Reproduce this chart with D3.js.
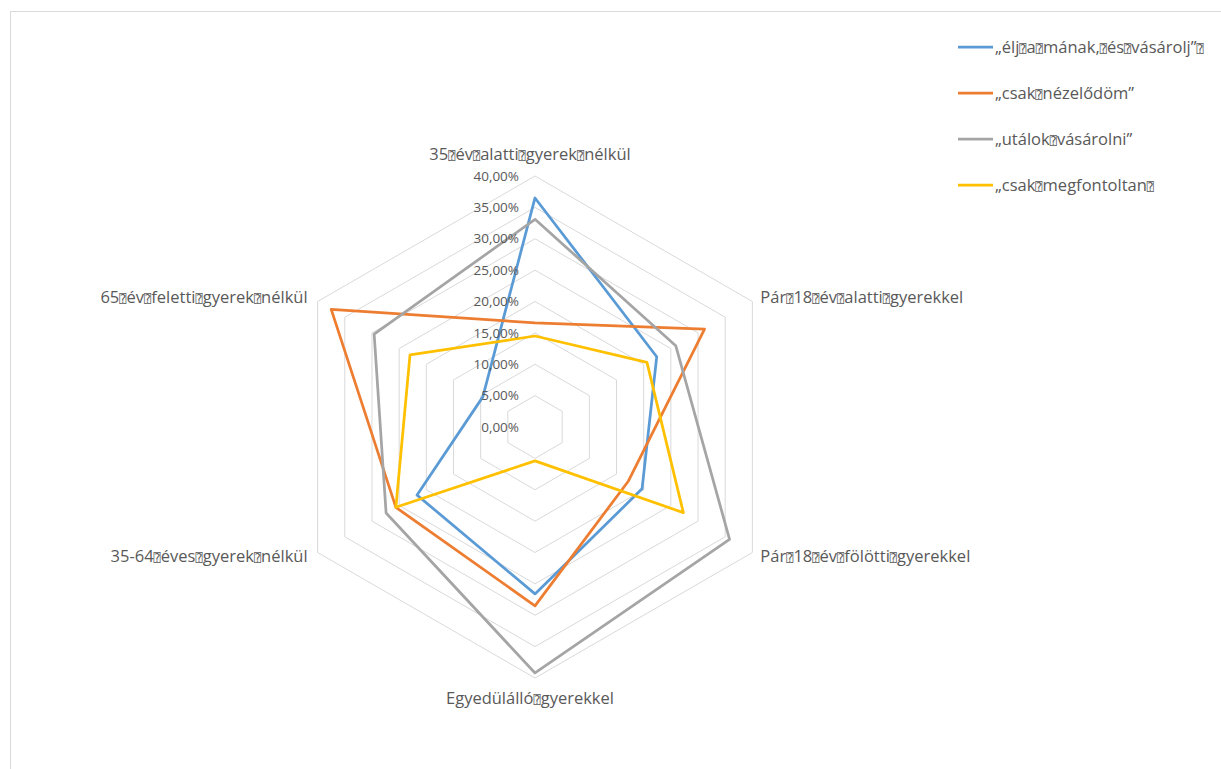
<!DOCTYPE html>
<html>
<head>
<meta charset="utf-8">
<script src="https://cdn.jsdelivr.net/npm/d3@7"></script>
<style>
  body { margin: 0; background: #fff; }
  text { font-family: "Open Sans", "DejaVu Sans", sans-serif; fill: #595959; }
  .box { font-family: "DejaVu Sans Mono", "DejaVu Sans", sans-serif; font-size: 12px; }
</style>
</head>
<body>
<script>
// "⍰" stands for the missing-glyph boxes shown in the original
const categories = [
  "35⍰év⍰alatti⍰gyerek⍰nélkül",
  "Pár⍰18⍰év⍰alatti⍰gyerekkel",
  "Pár⍰18⍰év⍰fölötti⍰gyerekkel",
  "Egyedülálló⍰gyerekkel",
  "35-64⍰éves⍰gyerek⍰nélkül",
  "65⍰év⍰feletti⍰gyerek⍰nélkül"
];
const seriesNames = [
  "„élj⍰a⍰mának,⍰és⍰vásárolj”⍰",
  "„csak⍰nézelődöm”",
  "„utálok⍰vásárolni”",
  "„csak⍰megfontoltan⍰"
];
const seriesColors = ["#5B9BD5", "#ED7D31", "#A5A5A5", "#FFC000"];
const blueValues   = [36.5, 22.4, 19.7, 26.6, 21.7, 9.6];
const orangeValues = [16.6, 31.2, 17.2, 28.5, 25.6, 37.5];
const grayValues   = [33.1, 25.9, 35.8, 39.2, 27.4, 29.6];
const yellowValues = [14.5, 20.6, 27.3, 5.4, 25.6, 23.0];
const tickValues = [0, 5, 10, 15, 20, 25, 30, 35, 40];
const tickLabels = ["0,00%", "5,00%", "10,00%", "15,00%", "20,00%", "25,00%", "30,00%", "35,00%", "40,00%"];

const series = [blueValues, orangeValues, grayValues, yellowValues];

const W = 1221, H = 769;
const svg = d3.select("body").append("svg").attr("width", W).attr("height", H);

// chart area border
svg.append("rect")
    .attr("x", 10.5).attr("y", 11.5)
    .attr("width", W + 20).attr("height", H + 20)
    .attr("fill", "none").attr("stroke", "#d9d9d9");

const cx = 535, cy = 427;
const r = d3.scaleLinear().domain([0, 40]).range([0, 251]);
const angle = i => i * 2 * Math.PI / categories.length;
const pt = (v, i) => [cx + r(v) * Math.sin(angle(i)), cy - r(v) * Math.cos(angle(i))];

function addText(sel, str) {
  str.split(/(⍰)/).forEach(s => {
    if (!s) return;
    if (s === "⍰") sel.append("tspan").attr("class", "box").text(s);
    else sel.append("tspan").text(s);
  });
}

// grid hexagons
const g = svg.append("g");
tickValues.filter(t => t > 0).forEach(t => {
  g.append("path")
      .attr("d", d3.line()(categories.map((c, i) => pt(t, i))) + "Z")
      .attr("fill", "none").attr("stroke", "#d9d9d9").attr("stroke-width", 1);
});

// series
const radar = d3.line().x(d => d[0]).y(d => d[1]);
series.forEach((vals, k) => {
  g.append("path")
      .attr("d", radar(vals.map((v, i) => pt(v, i))) + "Z")
      .attr("fill", "none")
      .attr("stroke", seriesColors[k])
      .attr("stroke-width", 2.75)
      .attr("stroke-linejoin", "round");
});

// tick labels
tickValues.forEach((t, j) => {
  svg.append("text")
      .attr("x", cx - 16).attr("y", cy - r(t))
      .attr("dy", "0.35em")
      .attr("text-anchor", "end")
      .style("font-size", "13.5px")
      .text(tickLabels[j]);
});

// category labels
categories.forEach((c, i) => {
  const [x, y] = pt(40, i);
  const s = Math.sin(angle(i)), co = Math.cos(angle(i));
  let anchor = "middle", tx = x, ty = y;
  if (Math.abs(s) < 0.01) {
    ty = co > 0 ? y - 22 : y + 20;
    tx = x - 5;
  } else {
    anchor = s > 0 ? "start" : "end";
    tx = x + (s > 0 ? 8 : -10);
    ty = co > 0 ? y - 4 : y + 4;
  }
  const t = svg.append("text")
      .attr("x", tx).attr("y", ty)
      .attr("dy", "0.35em")
      .attr("text-anchor", anchor)
      .style("font-size", "16.5px");
  addText(t, c);
});

// legend
seriesNames.forEach((n, k) => {
  const ly = 47 + k * 46;
  svg.append("line")
      .attr("x1", 958).attr("x2", 993)
      .attr("y1", ly).attr("y2", ly)
      .attr("stroke", seriesColors[k]).attr("stroke-width", 2.75);
  const t = svg.append("text")
      .attr("x", 995).attr("y", ly)
      .attr("dy", "0.35em")
      .style("font-size", "16.5px");
  addText(t, n);
});
</script>
</body>
</html>
